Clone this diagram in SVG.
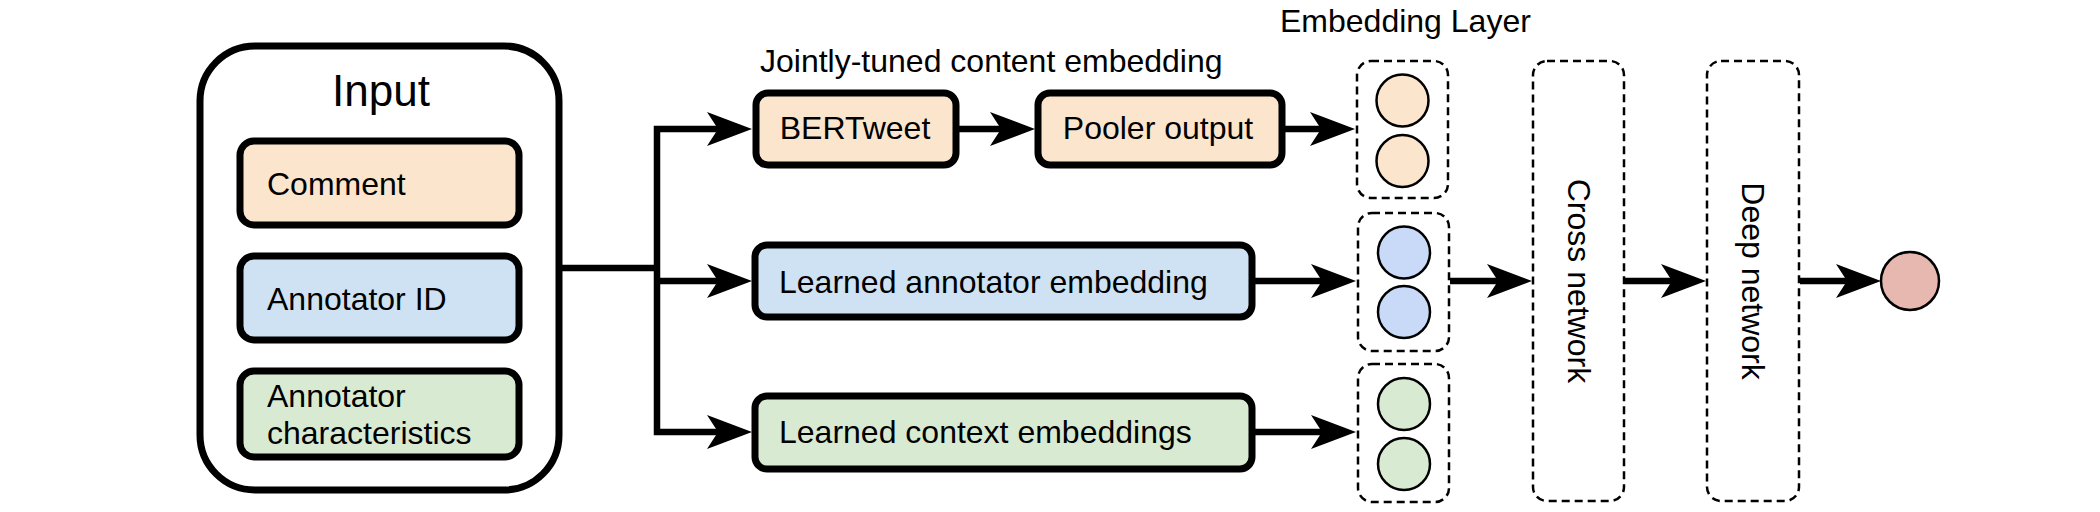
<svg xmlns="http://www.w3.org/2000/svg" width="2100" height="512" viewBox="0 0 2100 512">
<defs>
<style>
text { font-family: "Liberation Sans", Arial, Helvetica, sans-serif; font-size: 32px; fill: #000; }
.box { stroke: #000; stroke-width: 7; }
.dash { fill: none; stroke: #000; stroke-width: 2.5; stroke-dasharray: 8 5; }
.dot { stroke: #000; stroke-width: 2.5; }
.peach { fill: #fce5cd; }
.blue { fill: #cfe2f3; }
.green { fill: #d9ead3; }
.cblue { fill: #c9daf8; }
.red { fill: #e6b8af; }
.wire { fill: none; stroke: #000; stroke-width: 6.5; stroke-linejoin: miter; }
.arr { marker-end: url(#ah); }
</style>
<marker id="ah" markerUnits="userSpaceOnUse" viewBox="0 -18 46 36" markerWidth="46" markerHeight="36" refX="11" refY="0" orient="auto-start-reverse">
<path d="M45,0 L0,-17 L11,0 L0,17 Z" fill="#000"/>
</marker>
</defs>

<g id="connectors">
<path class="wire" d="M562,268 H657"/>
<path class="wire" d="M718,129 H657 V432 H718" marker-start="url(#ah)" marker-end="url(#ah)"/>
<path class="wire arr" d="M657,281 H718"/>
<path class="wire arr" d="M959,129 H1001"/>
<path class="wire arr" d="M1285,129 H1321"/>
<path class="wire arr" d="M1255,281 H1322"/>
<path class="wire arr" d="M1255,432 H1322"/>
<path class="wire arr" d="M1450,281 H1498"/>
<path class="wire arr" d="M1625,281 H1672"/>
<path class="wire arr" d="M1800,281 H1847"/>
</g>

<g id="input">
<rect class="box" x="200" y="46" width="359" height="444" rx="55" fill="#fff"/>
<text x="381" y="106" text-anchor="middle" style="font-size:44px">Input</text>
</g>
<g id="comment">
<rect class="box peach" x="240" y="141" width="279" height="84" rx="14"/>
<text x="267" y="195">Comment</text>
</g>
<g id="annotator-id">
<rect class="box blue" x="240" y="256" width="279" height="84" rx="14"/>
<text x="267" y="310">Annotator ID</text>
</g>
<g id="annotator-characteristics">
<rect class="box green" x="240" y="371" width="279" height="86" rx="14"/>
<text x="267" y="407">Annotator</text>
<text x="267" y="444">characteristics</text>
</g>

<g id="content-label">
<text x="760" y="72">Jointly-tuned content embedding</text>
</g>
<g id="bertweet">
<rect class="box peach" x="756" y="93" width="200" height="72" rx="12"/>
<text x="855" y="139" text-anchor="middle">BERTweet</text>
</g>
<g id="pooler">
<rect class="box peach" x="1038" y="93" width="244" height="72" rx="12"/>
<text x="1158" y="139" text-anchor="middle">Pooler output</text>
</g>
<g id="annotator-embedding">
<rect class="box blue" x="755" y="245" width="497" height="72" rx="12"/>
<text x="779" y="293">Learned annotator embedding</text>
</g>
<g id="context-embeddings">
<rect class="box green" x="755" y="396" width="497" height="73" rx="12"/>
<text x="779" y="443">Learned context embeddings</text>
</g>

<g id="embedding-layer-label">
<text x="1280" y="32">Embedding Layer</text>
</g>
<g id="emb-content">
<rect class="dash" x="1357" y="61" width="91" height="137" rx="14"/>
<circle class="dot peach" cx="1402.5" cy="100.5" r="26"/>
<circle class="dot peach" cx="1402.5" cy="161" r="26"/>
</g>
<g id="emb-annotator">
<rect class="dash" x="1358" y="213" width="91" height="138" rx="14"/>
<circle class="dot cblue" cx="1404" cy="252.5" r="26"/>
<circle class="dot cblue" cx="1404" cy="312" r="26"/>
</g>
<g id="emb-context">
<rect class="dash" x="1358" y="364" width="91" height="138" rx="14"/>
<circle class="dot green" cx="1404" cy="404" r="26"/>
<circle class="dot green" cx="1404" cy="464" r="26"/>
</g>

<g id="cross-network">
<rect class="dash" x="1533" y="61" width="91" height="440" rx="14"/>
<text transform="translate(1579,281) rotate(90)" text-anchor="middle" dy="0.35em">Cross network</text>
</g>
<g id="deep-network">
<rect class="dash" x="1707" y="61" width="92" height="440" rx="14"/>
<text transform="translate(1753,281) rotate(90)" text-anchor="middle" dy="0.35em">Deep network</text>
</g>
<g id="output">
<circle class="dot red" cx="1910" cy="281" r="29"/>
</g>
</svg>
